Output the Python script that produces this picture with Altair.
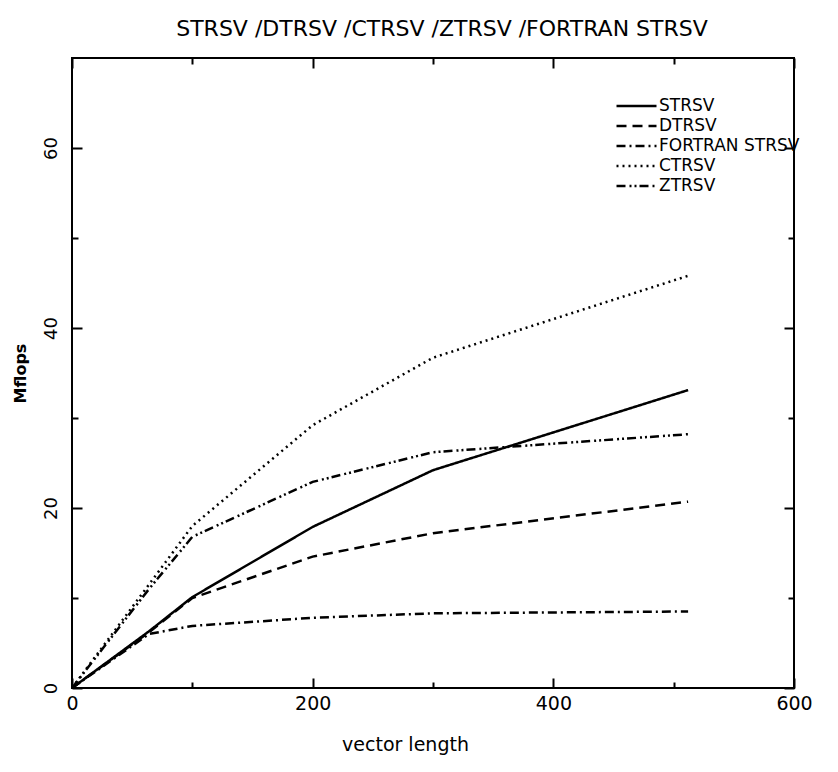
import altair as alt
import pandas as pd

# ---- data ----
vector_length = [0, 64, 100, 200, 300, 512]
strsv = [0, 6.3, 10.1, 17.9, 24.2, 33.1]
dtrsv = [0, 6.2, 10.0, 14.6, 17.2, 20.7]
fortran_strsv = [0, 6.0, 6.9, 7.8, 8.3, 8.5]
ctrsv = [0, 11.5, 18.0, 29.2, 36.7, 45.8]
ztrsv = [0, 11.0, 16.8, 22.9, 26.2, 28.2]

series_names = ["STRSV", "DTRSV", "FORTRAN STRSV", "CTRSV", "ZTRSV"]
series_values = [strsv, dtrsv, fortran_strsv, ctrsv, ztrsv]
dash_patterns = [[1, 0], [10, 6], [9, 4, 2, 4], [2, 4], [9, 4, 2, 3, 2, 3]]

x_major = [0, 200, 400, 600]
x_minor = [100, 300, 500]
y_major = [0, 20, 40, 60]
y_minor = [10, 30, 50]

title_text = "STRSV /DTRSV /CTRSV /ZTRSV /FORTRAN STRSV"

rows = []
for name, vals in zip(series_names, series_values):
    for n, v in zip(vector_length, vals):
        rows.append({"n": n, "mflops": v, "series": name})
df = pd.DataFrame(rows)

FONT = "DejaVu Sans"
xscale = alt.Scale(domain=[0, 600], nice=False, zero=False)
yscale = alt.Scale(domain=[0, 70], nice=False, zero=False)

base = alt.Chart(df)

main = base.mark_line(color="black", strokeWidth=2.5).encode(
    x=alt.X("n:Q", scale=xscale,
            axis=alt.Axis(values=x_major, orient="bottom", offset=-10, tickSize=10,
                          tickWidth=2, tickColor="black", domain=False, grid=False,
                          labelPadding=6, labelFontSize=19, labelFont=FONT, labelColor="black",
                          labelFlush=False,
                          title="vector length", titleFont=FONT, titleFontSize=19,
                          titleFontWeight="normal", titleColor="black", titlePadding=22,
                          titleX=333)),
    y=alt.Y("mflops:Q", scale=yscale,
            axis=alt.Axis(values=y_major, orient="left", offset=-10, tickSize=10,
                          tickWidth=2, tickColor="black", domain=False, grid=False,
                          labelPadding=12, labelFontSize=18, labelFont=FONT, labelColor="black",
                          labelAngle=270, labelAlign="center", labelBaseline="bottom",
                          labelFlush=False,
                          title="Mflops", titleFont=FONT, titleFontSize=16,
                          titleFontWeight="bold", titleColor="black", titlePadding=14)),
    strokeDash=alt.StrokeDash(
        "series:N",
        scale=alt.Scale(domain=series_names, range=dash_patterns),
        legend=alt.Legend(orient="none", legendX=543, legendY=38, title=None,
                          symbolType="stroke", symbolSize=1600, symbolStrokeWidth=2.5,
                          symbolStrokeColor="black", labelFontSize=17, labelFont=FONT,
                          labelColor="black", labelOffset=1, labelLimit=400,
                          clipHeight=20, rowPadding=0, padding=0)),
    detail="series:N",
)


def tick_layer(xvals, yvals, xorient, yorient, size):
    return base.mark_line(strokeOpacity=0).encode(
        x=alt.X("n:Q", scale=xscale,
                axis=alt.Axis(values=xvals, orient=xorient, offset=-size, tickSize=size,
                              tickWidth=2, tickColor="black", domain=False, grid=False,
                              labels=False, title=None)),
        y=alt.Y("mflops:Q", scale=yscale,
                axis=alt.Axis(values=yvals, orient=yorient, offset=-size, tickSize=size,
                              tickWidth=2, tickColor="black", domain=False, grid=False,
                              labels=False, title=None)),
        detail="series:N",
    )


chart = alt.layer(
    main,
    tick_layer(x_minor, y_minor, "bottom", "left", 6),
    tick_layer(x_major, y_major, "top", "right", 10),
    tick_layer(x_minor, y_minor, "top", "right", 6),
).resolve_axis(x="independent", y="independent").properties(
    width=722,
    height=630,
    autosize=alt.AutoSizeParams(type="none"),
    padding={"left": 72, "top": 58, "right": 44, "bottom": 84},
    background="white",
    title=alt.TitleParams(title_text, font=FONT, fontSize=22, fontWeight="normal",
                          color="black", anchor="middle", offset=16, dx=9),
).configure_view(stroke="black", strokeWidth=2)

chart.save("out.html", embed_options={"renderer": "svg", "actions": False})
